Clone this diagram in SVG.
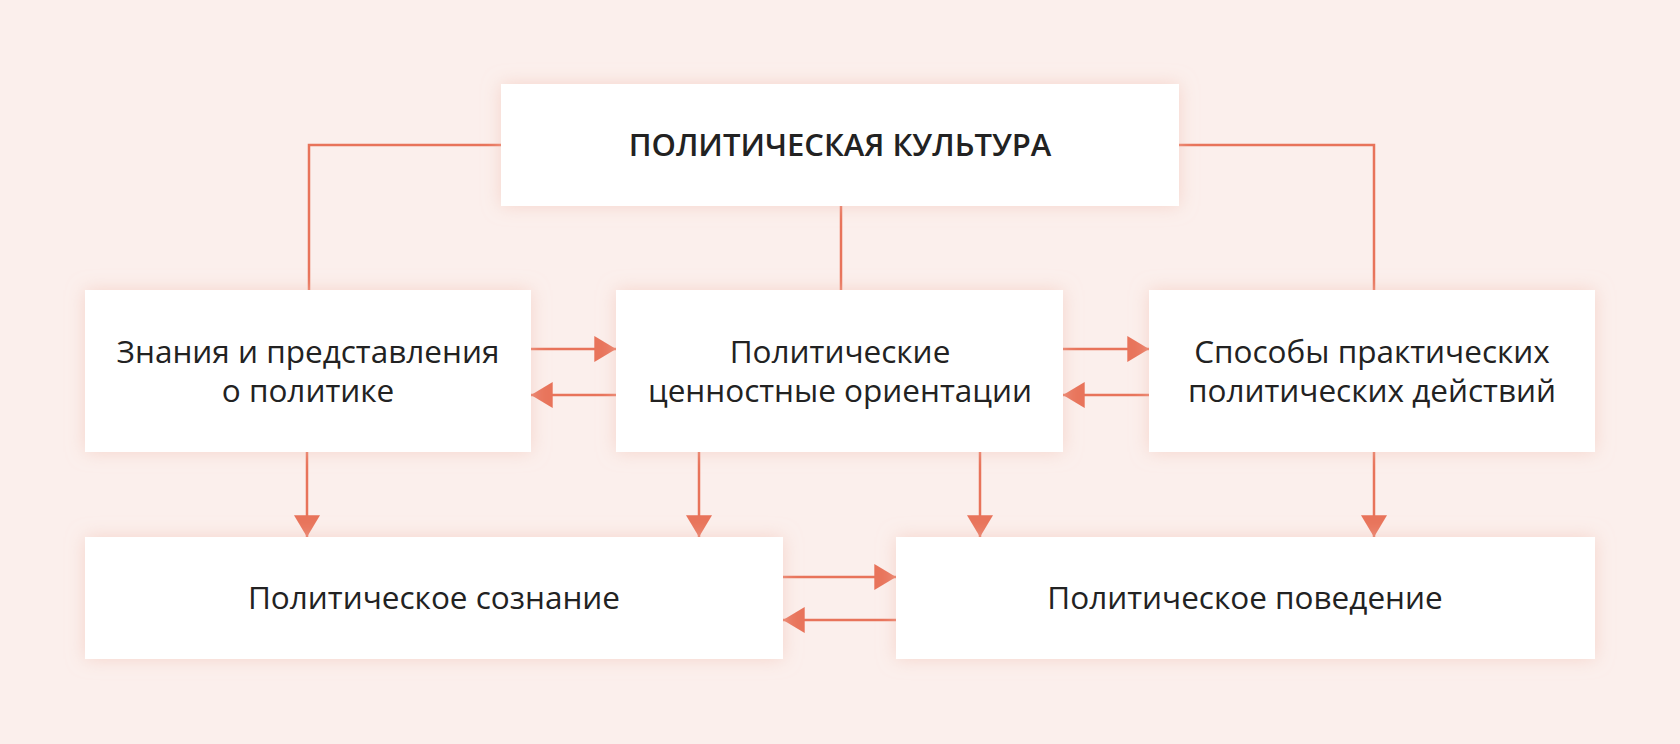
<svg xmlns="http://www.w3.org/2000/svg" width="1680" height="744" viewBox="0 0 1680 744">
<defs>
<filter id="sh" x="-20%" y="-40%" width="140%" height="180%"><feGaussianBlur in="SourceAlpha" stdDeviation="9" result="b"/><feFlood flood-color="#f2c2b5" flood-opacity="0.6"/><feComposite operator="in" in2="b"/><feMerge><feMergeNode/><feMergeNode in="SourceGraphic"/></feMerge></filter>
<marker id="a" viewBox="0 0 20 24" refX="20" refY="12" markerWidth="22" markerHeight="26" markerUnits="userSpaceOnUse" orient="auto"><path d="M0,0 L20,12 L0,24 z" fill="#e8735a"/></marker>
</defs>
<style>
.box{fill:#fff;filter:url(#sh)}
text{font-family:"Open Sans","Noto Sans",sans-serif;font-size:31.5px;fill:#222;text-anchor:middle}
.t{font-weight:600;font-size:31px}
.c line,.c polyline{stroke:#e8735a;stroke-width:2.5;fill:none}
</style>
<rect width="1680" height="744" fill="#fbefec"/>
<g class="c">
<polyline points="501,145 309,145 309,290"/>
<polyline points="1179,145 1374,145 1374,290"/>
<line x1="841" y1="206" x2="841" y2="290"/>
<line x1="531" y1="349" x2="616" y2="349" marker-end="url(#a)"/>
<line x1="616" y1="395" x2="531" y2="395" marker-end="url(#a)"/>
<line x1="1063" y1="349" x2="1149" y2="349" marker-end="url(#a)"/>
<line x1="1149" y1="395" x2="1063" y2="395" marker-end="url(#a)"/>
<line x1="307" y1="452" x2="307" y2="537" marker-end="url(#a)"/>
<line x1="699" y1="452" x2="699" y2="537" marker-end="url(#a)"/>
<line x1="980" y1="452" x2="980" y2="537" marker-end="url(#a)"/>
<line x1="1374" y1="452" x2="1374" y2="537" marker-end="url(#a)"/>
<line x1="783" y1="577" x2="896" y2="577" marker-end="url(#a)"/>
<line x1="896" y1="620" x2="783" y2="620" marker-end="url(#a)"/>
</g>
<g id="top"><rect class="box" x="501" y="84" width="678" height="122"/><text class="t" x="840" y="156">ПОЛИТИЧЕСКАЯ КУЛЬТУРА</text></g>
<g id="n1"><rect class="box" x="85" y="290" width="446" height="162"/><text x="308" y="363">Знания и представления</text><text x="308" y="402">о политике</text></g>
<g id="n2"><rect class="box" x="616" y="290" width="447" height="162"/><text x="840" y="363">Политические</text><text x="840" y="402">ценностные ориентации</text></g>
<g id="n3"><rect class="box" x="1149" y="290" width="446" height="162"/><text x="1372" y="363">Способы практических</text><text x="1372" y="402">политических действий</text></g>
<g id="n4"><rect class="box" x="85" y="537" width="698" height="122"/><text x="434" y="609">Политическое сознание</text></g>
<g id="n5"><rect class="box" x="896" y="537" width="699" height="122"/><text x="1245" y="609">Политическое поведение</text></g>
</svg>
